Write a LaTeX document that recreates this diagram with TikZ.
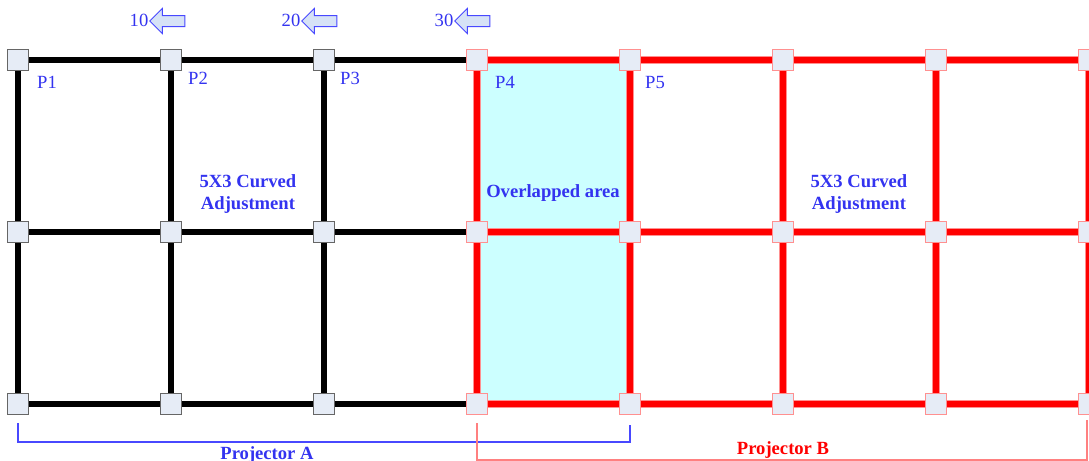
\documentclass[tikz,border=0pt]{standalone}
\usepackage{fontspec}
\setmainfont{Liberation Serif}
\usetikzlibrary{shapes.arrows}
\definecolor{txtblue}{HTML}{3333F0}
\definecolor{cyanfill}{HTML}{CCFFFF}
\definecolor{sqfill}{HTML}{E6ECF6}
\definecolor{arrfill}{HTML}{D6E2F6}
\definecolor{gridred}{HTML}{FF0000}
\definecolor{haloRed}{HTML}{FF9090}
\definecolor{brblue}{HTML}{4848FF}
\definecolor{brred}{HTML}{FF8080}
\begin{document}
\begin{tikzpicture}[x=0.5pt,y=-0.5pt,
  blackline/.style={line width=2.7pt,black},
  redhalo/.style={line width=3.8pt,haloRed},
  redline/.style={line width=2.7pt,gridred},
  sqblack/.style={draw=black!60,fill=sqfill,line width=0.6pt,minimum size=10.2pt,inner sep=0pt},
  sqred/.style={draw=haloRed,fill=sqfill,line width=0.6pt,minimum size=10.2pt,inner sep=0pt},
  plabel/.style={text=txtblue,font=\fontsize{9.3}{10}\selectfont,inner sep=0pt},
  boldlabel/.style={font=\fontsize{9.3}{11}\selectfont\bfseries,align=center,inner sep=0pt},
  leftarrow/.style={single arrow,shape border rotate=180,draw=brblue,fill=arrfill,line width=0.5pt,
    minimum height=17.5pt,minimum width=12pt,single arrow head extend=3.5pt,inner sep=2.5pt},
  bluebr/.style={brblue,line width=0.8pt},
  redbr/.style={brred,line width=0.6pt}]
\useasboundingbox (0,0) rectangle (1089,461);
\clip (0,0) rectangle (1089,461);
% overlapped area
\fill[cyanfill] (477,60) rectangle (630,404);
% grid coordinates
\foreach \i/\x in {1/18,2/171,3/324,4/477,5/630,6/783,7/936,8/1089}
  \foreach \j/\y in {1/60,2/232,3/404}
    \coordinate (c\i\j) at (\x,\y);
% black grid
\foreach \j in {1,2,3} \draw[blackline] (c1\j) -- (c4\j);
\foreach \i in {1,2,3} \draw[blackline] (c\i1) -- (c\i3);
% red grid
\foreach \j in {1,2,3} \draw[redhalo] (c4\j) -- (c8\j);
\foreach \i in {4,5,6,7,8} \draw[redhalo] (c\i1) -- (c\i3);
\foreach \j in {1,2,3} \draw[redline] (c4\j) -- (c8\j);
\foreach \i in {4,5,6,7,8} \draw[redline] (c\i1) -- (c\i3);
% squares
\foreach \i in {1,2,3} \foreach \j in {1,2,3} \node[sqblack] (s\i\j) at (c\i\j) {};
\foreach \i in {4,5,6,7,8} \foreach \j in {1,2,3} \node[sqred] (s\i\j) at (c\i\j) {};
% point labels
\node[plabel] (p1) at (47,82) {P1};
\node[plabel] (p2) at (198,78) {P2};
\node[plabel] (p3) at (350,78) {P3};
\node[plabel] (p4) at (505,82) {P4};
\node[plabel] (p5) at (655,82) {P5};
% top arrows
\node[plabel] (n10) at (139,20) {10};
\node[leftarrow] (a10) at (170,21) {};
\node[plabel] (n20) at (291,20) {20};
\node[leftarrow] (a20) at (322,21) {};
\node[plabel] (n30) at (444,20) {30};
\node[leftarrow] (a30) at (475,21) {};
% area labels
\node[boldlabel,text=txtblue] (lA) at (248,194) {5X3 Curved\\Adjustment};
\node[boldlabel,text=txtblue] (lO) at (553,193) {Overlapped area};
\node[boldlabel,text=txtblue] (lB) at (859,194) {5X3 Curved\\Adjustment};
% brackets
\coordinate (ba1) at (18,423);
\coordinate (ba2) at (18,442);
\coordinate (ba3) at (630,442);
\coordinate (ba4) at (630,425);
\draw[bluebr] (ba1) -- (ba2) -- (ba3) -- (ba4);
\coordinate (bb1) at (477,423);
\coordinate (bb2) at (477,460);
\coordinate (bb3) at (1087,460);
\coordinate (bb4) at (1087,420);
\draw[redbr] (bb1) -- (bb2) -- (bb3) -- (bb4);
\node[boldlabel,text=txtblue] (pA) at (267,455) {Projector A};
\node[boldlabel,text=gridred] (pB) at (783,450) {Projector B};
\end{tikzpicture}
\end{document}
